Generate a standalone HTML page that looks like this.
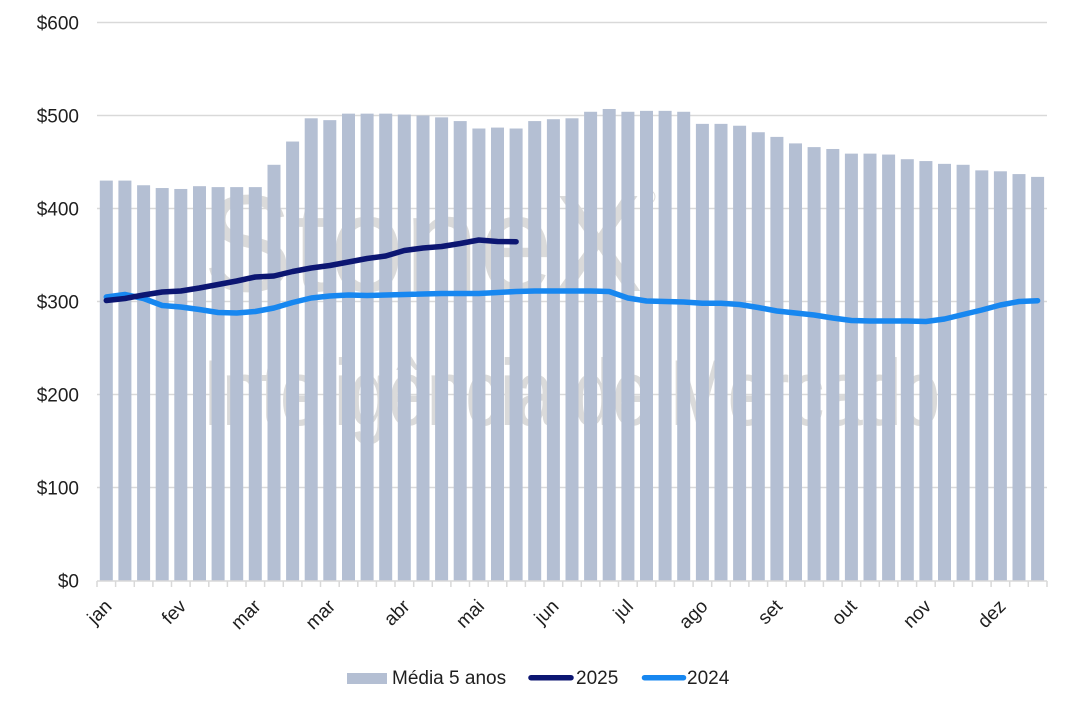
<!DOCTYPE html>
<html>
<head>
<meta charset="utf-8">
<style>
html,body{margin:0;padding:0;background:#fff;}
body{width:1072px;height:709px;overflow:hidden;}
svg{display:block;font-family:"Liberation Sans",sans-serif;}
</style>
</head>
<body>
<svg width="1072" height="709" viewBox="0 0 1072 709" xmlns="http://www.w3.org/2000/svg">
  <g stroke="#d9d9d9" stroke-width="1.4">
    <line x1="97" y1="22.5" x2="1047" y2="22.5"/>
    <line x1="97" y1="115.5" x2="1047" y2="115.5"/>
    <line x1="97" y1="208.5" x2="1047" y2="208.5"/>
    <line x1="97" y1="301.5" x2="1047" y2="301.5"/>
    <line x1="97" y1="394.5" x2="1047" y2="394.5"/>
    <line x1="97" y1="487.5" x2="1047" y2="487.5"/>
  </g>

  <g fill="#dadada">
    <text x="203" y="291" font-size="138" textLength="440" lengthAdjust="spacingAndGlyphs">StoneX</text>
    <text x="641" y="204" font-size="20">®</text>
    <text x="203" y="425" font-size="94" textLength="737" lengthAdjust="spacingAndGlyphs">Inteligência de Mercado</text>
  </g>

  <g fill="#b4bfd3" transform="translate(0,580.5) scale(1,-0.93)">
    <rect x="99.8" y="0" width="13" height="430"/>
    <rect x="118.4" y="0" width="13" height="430"/>
    <rect x="137.1" y="0" width="13" height="425"/>
    <rect x="155.7" y="0" width="13" height="422"/>
    <rect x="174.3" y="0" width="13" height="421"/>
    <rect x="193.0" y="0" width="13" height="424"/>
    <rect x="211.6" y="0" width="13" height="423"/>
    <rect x="230.2" y="0" width="13" height="423"/>
    <rect x="248.8" y="0" width="13" height="423"/>
    <rect x="267.5" y="0" width="13" height="447"/>
    <rect x="286.1" y="0" width="13" height="472"/>
    <rect x="304.7" y="0" width="13" height="497"/>
    <rect x="323.3" y="0" width="13" height="495"/>
    <rect x="342.0" y="0" width="13" height="502"/>
    <rect x="360.6" y="0" width="13" height="502"/>
    <rect x="379.2" y="0" width="13" height="502"/>
    <rect x="397.8" y="0" width="13" height="501"/>
    <rect x="416.5" y="0" width="13" height="500"/>
    <rect x="435.1" y="0" width="13" height="498"/>
    <rect x="453.7" y="0" width="13" height="494"/>
    <rect x="472.4" y="0" width="13" height="486"/>
    <rect x="491.0" y="0" width="13" height="487"/>
    <rect x="509.6" y="0" width="13" height="486"/>
    <rect x="528.2" y="0" width="13" height="494"/>
    <rect x="546.9" y="0" width="13" height="496"/>
    <rect x="565.5" y="0" width="13" height="497"/>
    <rect x="584.1" y="0" width="13" height="504"/>
    <rect x="602.7" y="0" width="13" height="507"/>
    <rect x="621.4" y="0" width="13" height="504"/>
    <rect x="640.0" y="0" width="13" height="505"/>
    <rect x="658.6" y="0" width="13" height="505"/>
    <rect x="677.2" y="0" width="13" height="504"/>
    <rect x="695.9" y="0" width="13" height="491"/>
    <rect x="714.5" y="0" width="13" height="491"/>
    <rect x="733.1" y="0" width="13" height="489"/>
    <rect x="751.8" y="0" width="13" height="482"/>
    <rect x="770.4" y="0" width="13" height="477"/>
    <rect x="789.0" y="0" width="13" height="470"/>
    <rect x="807.6" y="0" width="13" height="466"/>
    <rect x="826.3" y="0" width="13" height="464"/>
    <rect x="844.9" y="0" width="13" height="459"/>
    <rect x="863.5" y="0" width="13" height="459"/>
    <rect x="882.1" y="0" width="13" height="458"/>
    <rect x="900.8" y="0" width="13" height="453"/>
    <rect x="919.4" y="0" width="13" height="451"/>
    <rect x="938.0" y="0" width="13" height="448"/>
    <rect x="956.6" y="0" width="13" height="447"/>
    <rect x="975.3" y="0" width="13" height="441"/>
    <rect x="993.9" y="0" width="13" height="440"/>
    <rect x="1012.5" y="0" width="13" height="437"/>
    <rect x="1031.1" y="0" width="13" height="434"/>
  </g>

  <g stroke="#d9d9d9" stroke-width="1.5" fill="none">
    <line x1="97" y1="581" x2="1047" y2="581"/>
    <path d="M97 581v6M115.6 581v6M134.3 581v6M152.9 581v6M171.5 581v6M190.1 581v6M208.8 581v6M227.4 581v6M246 581v6M264.6 581v6M283.3 581v6M301.9 581v6M320.5 581v6M339.2 581v6M357.8 581v6M376.4 581v6M395 581v6M413.7 581v6M432.3 581v6M450.9 581v6M469.5 581v6M488.2 581v6M506.8 581v6M525.4 581v6M544 581v6M562.7 581v6M581.3 581v6M599.9 581v6M618.5 581v6M637.2 581v6M655.8 581v6M674.4 581v6M693.1 581v6M711.7 581v6M730.3 581v6M748.9 581v6M767.6 581v6M786.2 581v6M804.8 581v6M823.4 581v6M842.1 581v6M860.7 581v6M879.3 581v6M897.9 581v6M916.6 581v6M935.2 581v6M953.8 581v6M972.4 581v6M991.1 581v6M1009.7 581v6M1028.3 581v6M1047 581v6"/>
  </g>

  <polyline fill="none" stroke="#1787f0" stroke-width="5.5" stroke-linejoin="round" stroke-linecap="round"
    points="106.3,297 124.9,294.5 143.6,298.5 162.2,305.5 180.8,307 199.4,309.5 218.1,312.5 236.7,313 255.3,311.5 273.9,308 292.6,302.5 311.2,298 329.8,296 348.5,295 367.1,295.5 385.7,295 404.3,294.5 423,294 441.6,293.5 460.2,293.5 478.8,293.5 497.5,292.5 516.1,291.5 534.7,291 553.3,291 572,291 590.6,291 609.2,291.5 627.9,298 646.5,301 665.1,301.5 683.7,302 702.4,303.3 721,303.3 739.6,304.5 758.2,307.5 776.9,311 795.5,313 814.1,315 832.7,318 851.4,320.5 870,321 888.6,321 907.3,321 925.9,321.5 944.5,319 963.1,314.5 981.8,310 1000.4,305 1019,301.5 1037.6,300.7"/>

  <polyline fill="none" stroke="#0c1672" stroke-width="5.5" stroke-linejoin="round" stroke-linecap="round"
    points="106.3,300.5 124.9,298.5 143.6,295 162.2,292 180.8,291 199.4,288 218.1,284.5 236.7,281 255.3,277 273.9,276 292.6,271.5 311.2,268 329.8,265.5 348.5,262 367.1,258.5 385.7,256 404.3,250.5 423,248 441.6,246.5 460.2,243.5 478.8,240 497.5,241.5 516.1,241.7"/>

  <g font-size="19" fill="#1f1f1f" text-anchor="end">
    <text x="79" y="29.5">$600</text>
    <text x="79" y="122.5">$500</text>
    <text x="79" y="215.5">$400</text>
    <text x="79" y="308.5">$300</text>
    <text x="79" y="401.5">$200</text>
    <text x="79" y="494.5">$100</text>
    <text x="79" y="587.5">$0</text>
  </g>

  <g font-size="19" fill="#1f1f1f" text-anchor="end" dominant-baseline="central">
    <text transform="translate(109,603.5) rotate(-45)">jan</text>
    <text transform="translate(183.5,603.5) rotate(-45)">fev</text>
    <text transform="translate(258,603.5) rotate(-45)">mar</text>
    <text transform="translate(332.5,603.5) rotate(-45)">mar</text>
    <text transform="translate(407,603.5) rotate(-45)">abr</text>
    <text transform="translate(481.5,603.5) rotate(-45)">mai</text>
    <text transform="translate(556,603.5) rotate(-45)">jun</text>
    <text transform="translate(630.5,603.5) rotate(-45)">jul</text>
    <text transform="translate(705,603.5) rotate(-45)">ago</text>
    <text transform="translate(779.5,603.5) rotate(-45)">set</text>
    <text transform="translate(854,603.5) rotate(-45)">out</text>
    <text transform="translate(928.5,603.5) rotate(-45)">nov</text>
    <text transform="translate(1003,603.5) rotate(-45)">dez</text>
  </g>

  <rect x="347" y="673" width="40" height="11" fill="#b4bfd3"/>
  <text x="392" y="684" font-size="19" fill="#1f1f1f">Média 5 anos</text>
  <line x1="531" y1="677.7" x2="571" y2="677.7" stroke="#0c1672" stroke-width="5.5" stroke-linecap="round"/>
  <text x="576" y="684" font-size="19" fill="#1f1f1f">2025</text>
  <line x1="644.5" y1="677.7" x2="683.5" y2="677.7" stroke="#1787f0" stroke-width="5.5" stroke-linecap="round"/>
  <text x="687" y="684" font-size="19" fill="#1f1f1f">2024</text>
</svg>
</body>
</html>
